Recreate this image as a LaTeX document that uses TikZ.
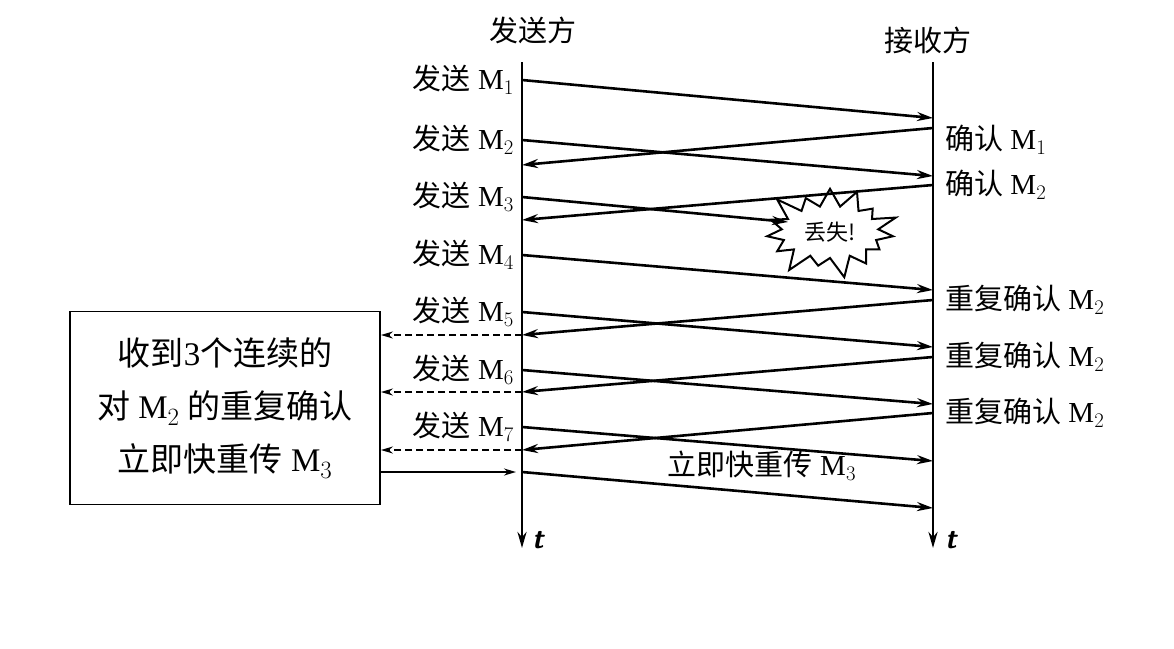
\documentclass[tikz,border=0pt]{standalone}
\usepackage{fontspec}
\setmainfont{Liberation Serif}
\newfontfamily\cjk{Noto Sans CJK SC}
\usetikzlibrary{shapes.symbols,arrows.meta}
\tikzset{
  msg/.style={line width=2.6pt,-{Stealth[length=16pt,width=9pt]}},
  dup/.style={line width=1.8pt,dash pattern=on 7pt off 4pt,-{Stealth[length=12pt,width=7pt]}},
  lbl/.style={inner sep=0pt,font=\fontsize{29}{32}\selectfont},
}
\newcommand{\mm}[1]{M$_{#1}$}
\begin{document}
\begin{tikzpicture}[x=1pt,y=-1pt]
  \useasboundingbox (0,0) rectangle (1174,648);
  % Lifelines
  \draw[msg,line width=2.8pt] (522,62) -- (522,548) coordinate (sEnd);
  \draw[msg,line width=2.8pt] (933,62) -- (933,548) coordinate (rEnd);
  \node[lbl,anchor=west] (ts) at (532,540) {\sffamily\itshape\bfseries t};
  \node[lbl,anchor=west] (tr) at (945,540) {\sffamily\itshape\bfseries t};
  \node[lbl] (hs) at (533,30) {\cjk 发送方};
  \node[lbl] (hr) at (928,40) {\cjk 接收方};
  % Send points on the sender line
  \foreach \i/\y in {1/80,2/140,3/197,4/255,5/312,6/370,7/427,8/472}
    {\coordinate (s\i) at (522,\y);}
  % Arrival points on the receiver line
  \foreach \i/\y in {1/118,2/176,4/290,5/347,6/404,7/461,8/508}
    {\coordinate (r\i) at (933,\y);}
  % Ack points
  \foreach \i/\a/\b in {1/128/165,2/185/220,3/300/335,4/357/392,5/413/450}
    {\coordinate (ra\i) at (933,\a); \coordinate (sa\i) at (522,\b);}
  % Send labels
  \foreach \i/\y in {1/80,2/140,3/197,4/255,5/312,6/370,7/427}
    {\node[lbl,anchor=east] (ls\i) at (514,\y) {{\cjk 发送} \mm{\i}};}
  % Data arrows
  \foreach \i in {1,2,4,5,6,7,8} {\draw[msg] (s\i) -- (r\i);}
  % Lost segment
  \node[starburst,draw,line width=2pt,fill=white,minimum width=145pt,minimum height=100pt,
        starburst points=15,starburst point height=24pt,inner sep=0pt] (lost) at (830,232) {\cjk\fontsize{22}{24}\selectfont 丢失!};
  \coordinate (m3end) at (788,222);
  \draw[msg] (s3) -- (m3end);
  % Acks
  \foreach \i in {1,...,5} {\draw[msg] (ra\i) -- (sa\i);}
  \node[lbl,anchor=west] (la1) at (945,140) {{\cjk 确认} \mm{1}};
  \node[lbl,anchor=west] (la2) at (945,185) {{\cjk 确认} \mm{2}};
  \foreach \y in {300,357,413}
    {\node[lbl,anchor=west] at (945,\y) {{\cjk 重复确认} \mm{2}};}
  % Fast retransmit label
  \node[lbl] (fr) at (762,466) {{\cjk 立即快重传} \mm{3}};
  % Box and its arrows
  \node[draw,line width=1.8pt,minimum width=310pt,minimum height=193pt,
        align=center,font=\fontsize{33}{53}\selectfont] (box) at (225,408)
    {{\cjk 收到}3{\cjk 个连续的}\\{\cjk 对} \mm{2} {\cjk 的重复确认}\\{\cjk 立即快重传} \mm{3}};
  \foreach \i in {3,4,5} {\draw[dup] (sa\i) -- (sa\i -| box.east);}
  \draw[line width=1.8pt,-{Stealth[length=12pt,width=7pt]}] (s8 -| box.east) -- ([xshift=-6pt]s8);
\end{tikzpicture}
\end{document}
